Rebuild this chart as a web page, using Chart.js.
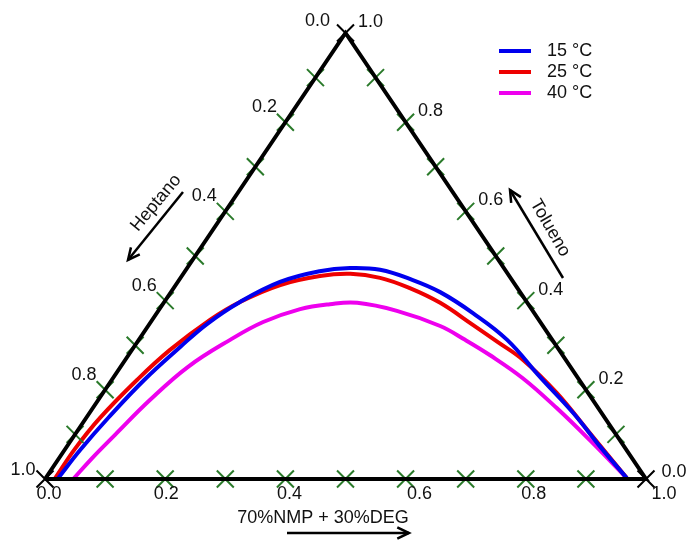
<!DOCTYPE html>
<html lang="pt-br">
<head>
    <meta charset="UTF-8">
    <title>Diagrama ternário</title>
    <script src="https://cdn.jsdelivr.net/npm/chart.js"></script>
    <style>
        body { margin: 0; background: #fff; }
        #grafico { display: block; }
    </style>
</head>
<body>
    <canvas id="grafico" width="688" height="540"></canvas>

    <script>
        // composições (fração de solvente 70%NMP+30%DEG e de tolueno)
        const solvente15 = [0.021, 0.026, 0.037, 0.054, 0.077, 0.096, 0.126, 0.170, 0.224, 0.271, 0.323, 0.389, 0.448, 0.526, 0.613, 0.709, 0.805, 0.888, 0.967];
        const tolueno15  = [0.002, 0.065, 0.139, 0.222, 0.296, 0.348, 0.397, 0.442, 0.466, 0.473, 0.469, 0.446, 0.419, 0.372, 0.312, 0.229, 0.148, 0.072, 0.002];

        const solvente25 = [0.016, 0.016, 0.023, 0.042, 0.063, 0.096, 0.126, 0.174, 0.230, 0.278, 0.332, 0.393, 0.460, 0.540, 0.600, 0.662, 0.755, 0.855, 0.967];
        const tolueno25  = [0.002, 0.067, 0.137, 0.222, 0.289, 0.357, 0.397, 0.435, 0.455, 0.460, 0.451, 0.428, 0.395, 0.345, 0.307, 0.267, 0.193, 0.103, 0.002];

        const solvente40 = [0.047, 0.055, 0.067, 0.086, 0.112, 0.152, 0.187, 0.234, 0.278, 0.322, 0.397, 0.486, 0.543, 0.601, 0.682, 0.772, 0.863, 0.967];
        const tolueno40  = [0.000, 0.047, 0.099, 0.177, 0.251, 0.312, 0.352, 0.381, 0.392, 0.395, 0.377, 0.343, 0.312, 0.278, 0.226, 0.159, 0.087, 0.002];

        const series = ['15 °C', '25 °C', '40 °C'];
        const cores = ['#0000ee', '#ee0000', '#ee00ee'];

        const divisoes = [0.1, 0.2, 0.3, 0.4, 0.5, 0.6, 0.7, 0.8, 0.9];
        const rotulos = ['0.0', '0.2', '0.4', '0.6', '0.8', '1.0'];

        // converte (solvente, tolueno) para coordenadas cartesianas do triângulo
        function paraXY(s, t) {
            return { x: s + t / 2, y: t };
        }

        function curva(sol, tol) {
            const pts = [];
            for (let i = 0; i < sol.length; i++) pts.push(paraXY(sol[i], tol[i]));
            return pts;
        }

        const marcasBase = divisoes.map(v => paraXY(v, 0));
        const marcasEsq = divisoes.map(v => paraXY(0, v));
        const marcasDir = divisoes.map(v => paraXY(1 - v, v));
        const vertices = [paraXY(0, 0), paraXY(1, 0), paraXY(0, 1)];
        const bordas = [paraXY(0, 0), paraXY(1, 0), paraXY(0, 1), paraXY(0, 0)];

        function seta(ctx, x1, y1, x2, y2) {
            const ang = Math.atan2(y2 - y1, x2 - x1);
            ctx.beginPath();
            ctx.moveTo(x1, y1);
            ctx.lineTo(x2, y2);
            ctx.stroke();
            ctx.beginPath();
            ctx.moveTo(x2 - 13 * Math.cos(ang - 0.45), y2 - 13 * Math.sin(ang - 0.45));
            ctx.lineTo(x2, y2);
            ctx.lineTo(x2 - 13 * Math.cos(ang + 0.45), y2 - 13 * Math.sin(ang + 0.45));
            ctx.stroke();
        }

        const textos = {
            id: 'textos',
            afterDraw(chart) {
                const ctx = chart.ctx;
                const sx = chart.scales.x, sy = chart.scales.y;
                const px = p => [sx.getPixelForValue(p.x), sy.getPixelForValue(p.y)];
                ctx.save();
                ctx.fillStyle = '#111';
                ctx.strokeStyle = '#000';
                ctx.font = '18px "Liberation Sans", Arial, sans-serif';
                ctx.textAlign = 'center';
                ctx.textBaseline = 'middle';

                // rótulos da base
                const ajBase = [4, 1, 4, 14, 8, 18];
                rotulos.forEach((r, i) => {
                    const [x, y] = px(paraXY(i * 0.2, 0));
                    ctx.fillText(r, x + ajBase[i], y + 15);
                });
                // rótulos do heptano (lado esquerdo, 0 no topo)
                rotulos.forEach((r, i) => {
                    const [x, y] = px(paraXY(0, 1 - i * 0.2));
                    let dx = -21, dy = -15;
                    if (i === 0) { dx = -28; dy = -12; }
                    if (i === 5) { dx = -22; dy = -9; }
                    ctx.fillText(r, x + dx, y + dy);
                });
                // rótulos do tolueno (lado direito, 0 embaixo)
                rotulos.forEach((r, i) => {
                    const [x, y] = px(paraXY(1 - i * 0.2, i * 0.2));
                    let dx = 25, dy = -11;
                    if (i === 0) { dx = 28; dy = -7; }
                    ctx.fillText(r, x + dx, y + dy);
                });

                // títulos dos eixos
                ctx.lineWidth = 2.5;
                ctx.save();
                ctx.translate(156, 203);
                ctx.rotate(-50 * Math.PI / 180);
                ctx.fillText('Heptano', 0, 0);
                ctx.restore();
                seta(ctx, 183, 192, 128, 260);

                ctx.save();
                ctx.translate(550, 228);
                ctx.rotate(60 * Math.PI / 180);
                ctx.fillText('Tolueno', 0, 0);
                ctx.restore();
                seta(ctx, 563, 278, 510, 190);

                ctx.fillText('70%NMP + 30%DEG', 323, 518);
                seta(ctx, 287, 533, 409, 533);

                // legenda
                ctx.textAlign = 'left';
                ctx.lineWidth = 4;
                series.forEach((nome, i) => {
                    const y = 51 + i * 21;
                    ctx.strokeStyle = cores[i];
                    ctx.beginPath();
                    ctx.moveTo(499, y);
                    ctx.lineTo(531, y);
                    ctx.stroke();
                    ctx.fillText(nome, 547, y);
                });
                ctx.restore();
            }
        };

        const linhaCurva = (nome, dados, cor) => ({
            label: nome,
            type: 'line',
            data: dados,
            borderColor: cor,
            backgroundColor: cor,
            borderWidth: 4,
            pointRadius: 0,
            tension: 0.4,
            fill: false,
            clip: false
        });

        const cruz = (dados, cor, raio) => ({
            type: 'scatter',
            data: dados,
            pointStyle: 'crossRot',
            pointRadius: raio,
            borderColor: cor,
            borderWidth: 2,
            clip: false
        });

        new Chart(document.getElementById('grafico').getContext('2d'), {
            type: 'scatter',
            data: {
                datasets: [
                    {
                        type: 'line',
                        data: bordas,
                        borderColor: '#000',
                        borderWidth: 4,
                        pointRadius: 0,
                        tension: 0,
                        clip: false
                    },
                    cruz(marcasBase, '#2a7a2a', 12),
                    cruz(marcasEsq, '#2a7a2a', 12),
                    cruz(marcasDir, '#2a7a2a', 12),
                    cruz(vertices, '#000', 12),
                    linhaCurva(series[0], curva(solvente15, tolueno15), cores[0]),
                    linhaCurva(series[1], curva(solvente25, tolueno25), cores[1]),
                    linhaCurva(series[2], curva(solvente40, tolueno40), cores[2])
                ]
            },
            options: {
                responsive: false,
                animation: false,
                layout: { padding: { left: 45, right: 42, top: 33, bottom: 61 } },
                scales: {
                    x: { type: 'linear', min: 0, max: 1, display: false },
                    y: { type: 'linear', min: 0, max: 1, display: false }
                },
                plugins: {
                    legend: { display: false },
                    tooltip: { enabled: false }
                }
            },
            plugins: [textos]
        });
    </script>
</body>
</html>
